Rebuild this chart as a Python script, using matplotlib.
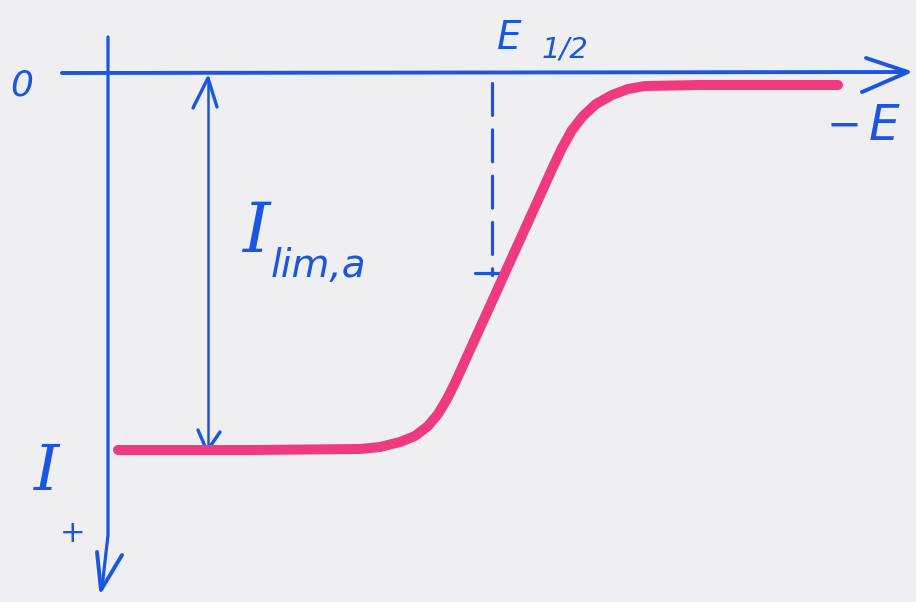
import matplotlib
matplotlib.use("Agg")
import matplotlib.pyplot as plt

# Polarographic (anodic) wave, arbitrary units: E along the axis, I (anodic +) downward
E_curve = [0.08, 1.40, 2.50, 2.70, 2.90, 3.05, 3.18, 3.28, 3.37, 3.45, 3.94,
           4.43, 4.52, 4.62, 4.73, 4.86, 5.02, 5.18, 5.35, 5.90, 7.28]
I_curve = [3.75, 3.75, 3.74, 3.72, 3.67, 3.61, 3.51, 3.39, 3.24, 3.08, 2.00,
           0.92, 0.73, 0.55, 0.41, 0.29, 0.20, 0.14, 0.11, 0.10, 0.10]

E_half = 3.82          # half-wave potential
I_half = 1.98          # level of the E1/2 marker
I_lim = 3.77           # limiting current level
E_lim_arrow = 0.98     # position of the I_lim double arrow

BLUE = "#1a55e3"
PINK = "#ef3a80"
BG = "#efeff1"

fig = plt.figure(figsize=(9.16, 6.02), dpi=100, facecolor=BG)
ax = fig.add_axes([0, 0, 1, 1])
ax.set_facecolor(BG)
ax.set_xlim(-1.10, 8.06)
ax.set_ylim(5.27, -0.75)
ax.axis("off")

lw_ax = 2.8
# horizontal (E) axis with arrow
ax.plot([-0.48, 7.95], [-0.02, -0.03], color=BLUE, lw=lw_ax, solid_capstyle="round")
ax.plot([7.56, 7.98, 7.52], [-0.17, -0.03, 0.17], color=BLUE, lw=lw_ax,
        solid_capstyle="round", solid_joinstyle="round")
# vertical (I) axis with arrow
ax.plot([-0.02, -0.02, -0.08], [-0.38, 4.6, 5.13], color=BLUE, lw=2.3, solid_capstyle="round")
ax.plot([-0.13, -0.09, 0.12], [4.77, 5.15, 4.80], color=BLUE, lw=lw_ax,
        solid_capstyle="round", solid_joinstyle="round")

# limiting current double arrow
ax.plot([E_lim_arrow, E_lim_arrow], [0.03, I_lim - 0.02], color=BLUE, lw=1.8)
ax.plot([0.83, E_lim_arrow, 1.07], [0.33, 0.03, 0.32], color=BLUE, lw=2.4,
        solid_capstyle="round", solid_joinstyle="round")
ax.plot([0.88, E_lim_arrow - 0.01, 1.10], [3.55, I_lim - 0.01, 3.57], color=BLUE, lw=2.4,
        solid_capstyle="round", solid_joinstyle="round")

# E1/2 dashed marker
ax.plot([E_half, E_half], [0.08, I_half + 0.02], color=BLUE, lw=2.3,
        dashes=(10, 4.5), dash_capstyle="round")
ax.plot([E_half - 0.17, E_half + 0.11], [I_half, I_half], color=BLUE, lw=2.3,
        solid_capstyle="round")

# the wave
ax.plot(E_curve, I_curve, color=PINK, lw=7.2, solid_capstyle="round",
        solid_joinstyle="round", zorder=3)

# labels
fs = dict(color=BLUE, style="italic", family="DejaVu Sans")
fi = dict(color=BLUE, style="italic", family="DejaVu Serif")
ax.text(-0.88, 0.10, "0", fontsize=26, ha="center", va="center", **fs)
ax.text(3.99, -0.37, "E", fontsize=28, ha="center", va="center", **fs)
ax.text(4.55, -0.26, "1/2", fontsize=21, ha="center", va="center", **fs)
ax.text(7.34, 0.51, "−", fontsize=30, ha="center", va="center", **fs)
ax.text(7.74, 0.51, "E", fontsize=35, ha="center", va="center", **fs)
ax.text(1.46, 1.58, "I", fontsize=50, ha="center", va="center", **fi)
ax.text(1.61, 2.02, "lim,a", fontsize=28, ha="left", va="baseline", **fs)
ax.text(-0.63, 3.98, "I", fontsize=46, ha="center", va="center", **fi)
ax.text(-0.37, 4.58, "+", fontsize=22, ha="center", va="center", **fs)

fig.savefig("out.png", dpi=100, facecolor=BG)
